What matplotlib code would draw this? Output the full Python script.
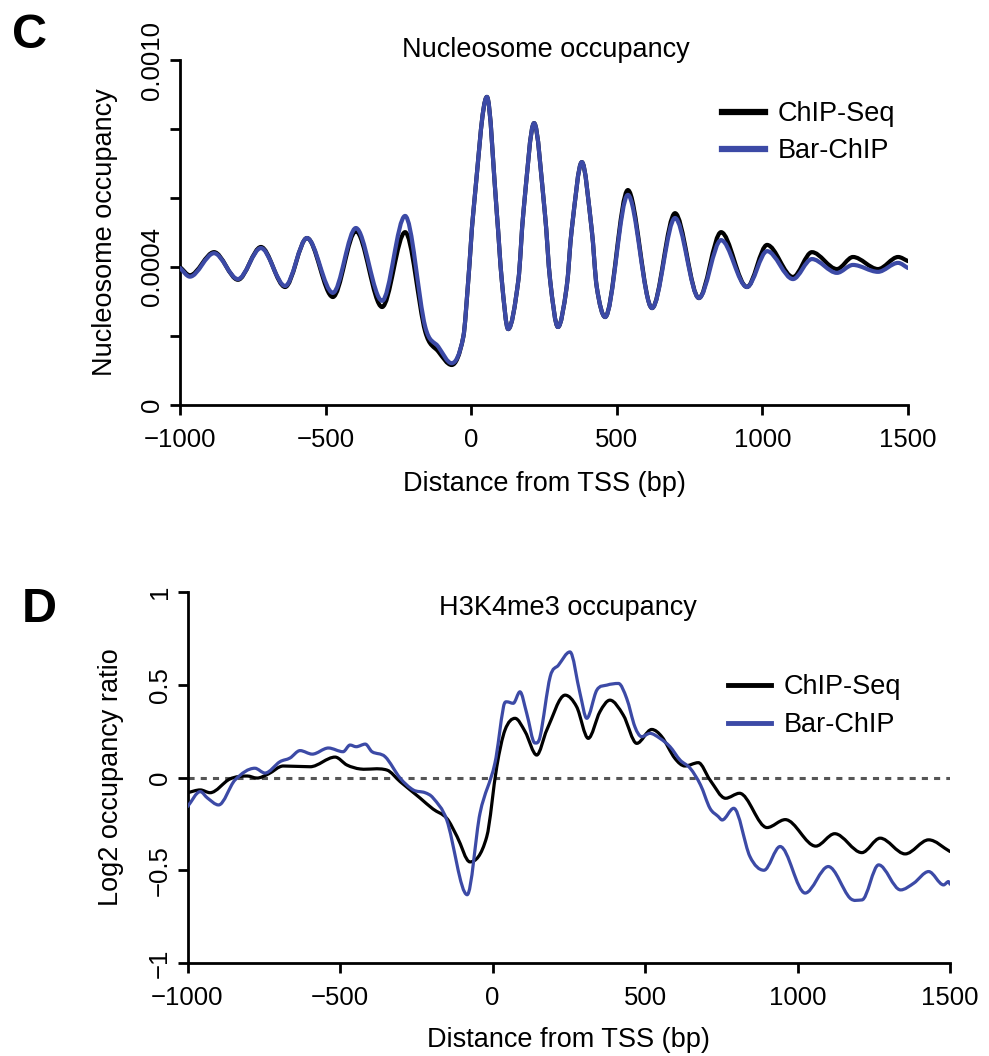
import numpy as np
import matplotlib
matplotlib.use("Agg")
import matplotlib.pyplot as plt
from matplotlib.path import Path
from matplotlib.patches import PathPatch
from matplotlib.lines import Line2D

# ---------------- data ----------------
# Panel C: nucleosome occupancy (x in bp from TSS, values x1e-4)
nuc_x = [-1000, -966, -883, -801, -722, -639, -564, -475, -396, -306, -227,
         -158, -113, -67, -27, -10, 7, 54, 88, 105, 127, 162, 179, 216, 253,
         271, 298, 328, 345, 380, 414, 431, 460, 538, 621, 700, 782, 858, 947,
         1016, 1105, 1170, 1256, 1311, 1397, 1466, 1500]
nuc_chipseq = [4.00, 3.76, 4.43, 3.63, 4.58, 3.42, 4.84, 3.13, 5.04, 2.84, 5.01,
               2.13, 1.55, 1.16, 1.98, 3.62, 5.56, 8.93, 5.56, 3.62, 2.20, 3.62,
               5.56, 8.17, 5.56, 3.62, 2.26, 3.43, 5.07, 7.04, 5.07, 3.43, 2.55,
               6.23, 2.81, 5.56, 3.10, 5.01, 3.42, 4.64, 3.71, 4.43, 3.94, 4.29,
               3.94, 4.29, 4.17]
nuc_barchip = [3.97, 3.72, 4.40, 3.65, 4.55, 3.45, 4.84, 3.25, 5.13, 3.02, 5.48,
               2.27, 1.69, 1.21, 1.98, 3.62, 5.56, 8.93, 5.56, 3.62, 2.20, 3.62,
               5.56, 8.17, 5.56, 3.62, 2.26, 3.43, 5.07, 7.04, 5.07, 3.43, 2.55,
               6.09, 2.81, 5.42, 3.10, 4.78, 3.42, 4.46, 3.65, 4.23, 3.83, 4.06,
               3.86, 4.12, 3.97]

# Panel D: H3K4me3 log2 occupancy ratio
h3_chipseq_x = [-1000, -958, -926, -861, -804, -772, -735, -686, -598, -516, -477,
                -434, -346, -303, -238, -195, -150, -116, -74, -19, 14, 41, 74,
                107, 145, 178, 238, 276, 314, 352, 385, 429, 473, 522, 555, 598,
                631, 675, 713, 764, 810, 900, 960, 1060, 1122, 1211, 1271, 1353,
                1430, 1500]
h3_chipseq = [-0.082, -0.067, -0.082, -0.008, 0.008, -0.003, 0.019, 0.062, 0.058,
              0.110, 0.067, 0.046, 0.040, -0.022, -0.110, -0.170, -0.220, -0.319,
              -0.455, -0.320, 0.058, 0.256, 0.319, 0.247, 0.121, 0.256, 0.444,
              0.381, 0.211, 0.354, 0.417, 0.336, 0.184, 0.259, 0.220, 0.103,
              0.062, 0.080, -0.013, -0.112, -0.085, -0.270, -0.227, -0.370,
              -0.303, -0.405, -0.327, -0.412, -0.336, -0.399]
h3_barchip_x = [-1000, -958, -935, -898, -844, -779, -746, -697, -664, -631, -591,
                -538, -490, -467, -447, -417, -395, -352, -303, -260, -221, -195,
                -150, -83, -41, 8, 36, 47, 68, 90, 112, 139, 156, 189, 216, 254,
                287, 309, 342, 375, 413, 440, 467, 489, 516, 549, 582, 615, 648,
                682, 713, 740, 753, 791, 844, 890, 943, 1025, 1101, 1172, 1211,
                1266, 1338, 1381, 1430, 1479, 1495, 1500]
h3_barchip = [-0.157, -0.076, -0.110, -0.148, -0.013, 0.050, 0.024, 0.085, 0.105,
              0.145, 0.126, 0.159, 0.139, 0.175, 0.166, 0.180, 0.139, 0.112,
              -0.003, -0.067, -0.082, -0.110, -0.229, -0.632, -0.193, 0.078,
              0.381, 0.408, 0.400, 0.462, 0.347, 0.186, 0.220, 0.543, 0.605,
              0.677, 0.453, 0.319, 0.471, 0.498, 0.507, 0.426, 0.273, 0.220,
              0.238, 0.211, 0.166, 0.094, 0.050, -0.040, -0.166, -0.210, -0.229,
              -0.166, -0.426, -0.500, -0.372, -0.623, -0.480, -0.650, -0.660,
              -0.471, -0.606, -0.570, -0.507, -0.579, -0.561, -0.575]

series_labels = ["ChIP-Seq", "Bar-ChIP"]
x_ticks = [-1000, -500, 0, 500, 1000, 1500]
x_ticklabels = ["\u22121000", "\u2212500", "0", "500", "1000", "1500"]
nuc_yticks = [0, 0.0002, 0.0004, 0.0006, 0.0008, 0.0010]
nuc_yticklabels = ["0", "", "0.0004", "", "", "0.0010"]
h3_yticks = [-1, -0.5, 0, 0.5, 1]
h3_yticklabels = ["\u22121", "\u22120.5", "0", "0.5", "1"]

BLACK = "#000000"
BLUE = "#3C4AA6"

plt.rcParams["font.family"] = ["Liberation Sans", "DejaVu Sans"]


def smooth_path(x, y):
    """Smooth cubic path through the given data points (flat at extrema)."""
    x = np.asarray(x, float)
    y = np.asarray(y, float)
    n = len(x)
    m = np.zeros(n)
    for i in range(n):
        if i == 0:
            m[i] = (y[1] - y[0]) / (x[1] - x[0])
        elif i == n - 1:
            m[i] = (y[-1] - y[-2]) / (x[-1] - x[-2])
        else:
            d1 = y[i] - y[i - 1]
            d2 = y[i + 1] - y[i]
            if d1 * d2 <= 0:
                m[i] = 0.0
            else:
                m[i] = (y[i + 1] - y[i - 1]) / (x[i + 1] - x[i - 1])
    verts = [(x[0], y[0])]
    codes = [Path.MOVETO]
    for i in range(n - 1):
        dx = x[i + 1] - x[i]
        verts += [(x[i] + dx / 3, y[i] + m[i] * dx / 3),
                  (x[i + 1] - dx / 3, y[i + 1] - m[i + 1] * dx / 3),
                  (x[i + 1], y[i + 1])]
        codes += [Path.CURVE4] * 3
    return Path(verts, codes)


def add_curve(ax, x, y, color, lw, z):
    patch = PathPatch(smooth_path(x, y), facecolor="none", edgecolor=color,
                      lw=lw, zorder=z, capstyle="round", joinstyle="round")
    ax.add_patch(patch)


def style_axes(ax):
    for s in ["top", "right"]:
        ax.spines[s].set_visible(False)
    for s in ["left", "bottom"]:
        ax.spines[s].set_linewidth(2.0)
    ax.tick_params(axis="both", direction="out", length=7.5, width=2.0,
                   labelsize=18.5, colors="black")
    ax.tick_params(axis="x", pad=9)
    ax.tick_params(axis="y", pad=4)


W, H = 989, 1056
fig = plt.figure(figsize=(W / 100, H / 100), dpi=100)

# ---------------- Panel C ----------------
ax1 = fig.add_axes([180 / W, 1 - 405 / H, (908 - 180) / W, (405 - 60) / H])
nuc_cs = [v * 1e-4 for v in nuc_chipseq]
nuc_bc = [v * 1e-4 for v in nuc_barchip]
add_curve(ax1, nuc_x, nuc_cs, BLACK, 3.0, 3)
add_curve(ax1, nuc_x, nuc_bc, BLUE, 3.0, 4)
ax1.set_xlim(-1000, 1500)
ax1.set_ylim(0, 0.0010)
style_axes(ax1)
ax1.set_xticks(x_ticks)
ax1.set_xticklabels(x_ticklabels)
ax1.set_yticks(nuc_yticks)
ax1.set_yticklabels(nuc_yticklabels, rotation=90, va="center")
ax1.set_xlabel("Distance from TSS (bp)", fontsize=19.5, labelpad=14)
ax1.set_ylabel("Nucleosome occupancy", fontsize=19.5, labelpad=16)
fig.text(546 / W, 1 - 50 / H, "Nucleosome occupancy", fontsize=19.5,
         ha="center", va="center")
h1 = [Line2D([], [], color=BLACK, lw=4.5), Line2D([], [], color=BLUE, lw=4.5)]
fig.legend(h1, series_labels, loc="upper left",
           bbox_to_anchor=(722 / W, 1 - 101 / H), bbox_transform=fig.transFigure,
           frameon=False, fontsize=19.5, handlelength=1.6, handletextpad=0.45,
           labelspacing=0.42, borderpad=0, borderaxespad=0)
fig.text(12 / W, 1 - 48 / H, "C", fontsize=35, fontweight="bold",
         ha="left", va="baseline")

# ---------------- Panel D ----------------
ax2 = fig.add_axes([187.5 / W, 1 - 963 / H, (950 - 187.5) / W, (963 - 592) / H])
ax2.axhline(0, color="#555555", lw=2.2, ls=(0, (2, 2)), zorder=2)
add_curve(ax2, h3_chipseq_x, h3_chipseq, BLACK, 2.3, 3)
add_curve(ax2, h3_barchip_x, h3_barchip, BLUE, 2.3, 4)
ax2.set_xlim(-1000, 1500)
ax2.set_ylim(-1, 1)
style_axes(ax2)
ax2.set_xticks(x_ticks)
ax2.set_xticklabels(x_ticklabels)
ax2.set_yticks(h3_yticks)
ax2.set_yticklabels(h3_yticklabels, rotation=90, va="center")
ax2.set_xlabel("Distance from TSS (bp)", fontsize=19.5, labelpad=12)
ax2.set_ylabel("Log2 occupancy ratio", fontsize=19.5, labelpad=17)
fig.text(568 / W, 1 - 608 / H, "H3K4me3 occupancy", fontsize=19.5,
         ha="center", va="center")
h2 = [Line2D([], [], color=BLACK, lw=3.5), Line2D([], [], color=BLUE, lw=3.5)]
fig.legend(h2, series_labels, loc="upper left",
           bbox_to_anchor=(728 / W, 1 - 674 / H), bbox_transform=fig.transFigure,
           frameon=False, fontsize=19.5, handlelength=1.6, handletextpad=0.45,
           labelspacing=0.45, borderpad=0, borderaxespad=0)
fig.text(22 / W, 1 - 622 / H, "D", fontsize=35, fontweight="bold",
         ha="left", va="baseline")

fig.savefig("out.png", dpi=100)
